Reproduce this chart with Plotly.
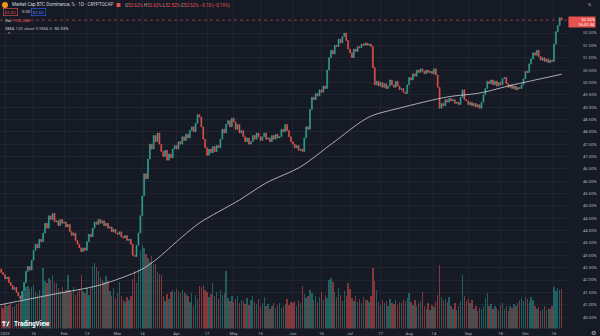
import pandas as pd
import plotly.graph_objects as go

# ---- Daily BTC dominance (%), 30 Dec 2022 .. 20 Oct 2023 -------------------
first_open = 42.45
closes = [
    42.30, 42.22, 42.05, 42.12, 41.90, 41.78, 41.62, 41.70, 41.50, 41.35,
    41.25, 41.55, 41.90, 42.35, 42.55, 42.40, 42.80, 43.20, 43.45, 43.30,
    43.65, 43.55, 43.90, 44.30, 44.10, 44.60, 44.45, 44.70, 44.35, 44.40,
    44.20, 44.45, 44.30, 44.35, 44.15, 44.25, 43.95, 43.80, 43.90, 43.60,
    43.45, 43.30, 43.15, 43.30, 43.20, 43.55, 43.85, 43.75, 44.10, 44.35,
    44.25, 44.45, 44.30, 44.40, 44.20, 44.30, 44.10, 44.15, 43.95, 44.05,
    43.90, 43.85, 43.95, 43.75, 43.70, 43.80, 43.60, 43.65, 43.45, 43.00,
    42.95, 43.40, 43.90, 44.60, 45.40, 46.30, 46.10, 46.90, 47.50, 47.30,
    47.85, 47.60, 47.95, 47.50, 47.20, 47.00, 47.25, 46.85, 47.10, 46.95,
    47.30, 47.45, 47.30, 47.60, 47.50, 47.80, 47.65, 47.90, 47.75, 48.05,
    48.20, 48.00, 48.35, 48.70, 48.60, 48.20, 47.70, 47.35, 47.05, 47.30,
    47.15, 47.40, 47.20, 47.45, 47.35, 47.70, 48.10, 47.95, 48.30, 48.45,
    48.20, 48.55, 48.40, 48.10, 48.30, 47.95, 48.05, 47.80, 47.60, 47.75,
    47.50, 47.60, 47.85, 47.70, 47.95, 47.80, 47.65, 47.80, 47.95, 47.70,
    47.75, 47.60, 47.85, 47.70, 47.90, 47.75, 47.80, 48.10, 48.00, 48.30,
    48.05, 47.80, 47.60, 47.50, 47.35, 47.45, 47.25, 47.30, 47.20, 47.75,
    48.20, 48.10, 48.90, 49.40, 49.30, 49.55, 49.45, 49.70, 49.60, 49.85,
    49.75, 50.50, 51.00, 51.30, 51.15, 51.50, 51.45, 51.75, 51.60, 51.85,
    52.00, 51.70, 51.35, 51.20, 51.00, 51.35, 51.25, 51.45, 51.40, 51.55,
    51.50, 51.60, 51.50, 51.55, 51.45, 50.60, 49.90, 50.05, 49.85, 50.00,
    49.80, 49.95, 49.75, 49.85, 50.10, 49.90, 49.80, 50.05, 49.85, 49.70,
    49.75, 49.60, 49.55, 49.90, 50.20, 50.10, 50.35, 50.25, 50.50, 50.40,
    50.55, 50.45, 50.35, 50.50, 50.40, 50.45, 50.35, 50.55, 50.30, 49.80,
    48.95, 49.15, 49.05, 49.30, 49.20, 49.35, 49.25, 49.30, 49.15, 49.20,
    49.10, 49.40, 49.70, 49.30, 49.25, 49.10, 49.20, 49.05, 49.15, 49.00,
    49.10, 48.95, 49.20, 49.50, 49.75, 50.05, 49.95, 50.10, 49.90, 50.05,
    49.85, 50.00, 49.90, 50.15, 50.20, 49.95, 49.80, 49.90, 49.75, 49.85,
    49.70, 49.80, 49.75, 49.90, 50.15, 50.45, 50.40, 50.75, 50.95, 51.20,
    51.10, 51.30, 51.05, 50.90, 51.00, 50.85, 50.95, 50.80, 50.90, 50.85,
    51.55, 52.05, 52.30, 52.62, 52.52,
]

# Daily volume, billions
volumes = [
    60, 55, 65, 58, 62, 66, 57, 60, 64, 68,
    82, 90, 95,
    108, 112, 104, 110, 114,
    95, 90, 100, 88,
    158,
    125, 120, 132, 128,
    140,
    122, 118,
    105, 98, 110, 96, 102,
    140,
    100, 92, 108, 88, 96, 104,
    140,
    98, 92, 105, 88, 110,
    165, 172, 160, 150,
    135, 128, 122, 138, 125,
    98, 85, 105, 80, 92,
    121,
    84, 76, 70, 82, 74, 86,
    130, 150, 118, 155,
    205, 219, 210, 195,
    185, 175, 190, 170, 168,
    148, 142, 140,
    85, 72, 90, 78, 95,
    100, 96, 104, 98, 92, 102, 96, 90,
    85, 70, 92, 60, 88, 78,
    112, 108, 115, 100,
    95, 82, 90,
    118,
    85, 95, 78, 100, 88, 92,
    150,
    80, 72, 86, 70, 78, 84, 68, 76,
    72, 65, 80, 62, 74, 86, 70, 64, 78, 60, 68, 82,
    58, 64, 52, 60, 66, 55, 62, 68, 54, 60, 65, 78, 62, 70,
    66, 72, 60, 74, 68,
    112, 90,
    80, 84, 100, 92, 75, 86, 70, 82, 95, 74, 88, 80,
    128, 132, 122,
    95, 82, 105, 88, 72, 98,
    85,
    118, 104,
    80, 72, 86, 70, 78, 68, 82, 74, 76, 70, 84,
    158,
    125, 100,
    70, 62, 75, 66, 72, 60, 78, 68, 64, 74, 62, 70, 66, 76, 72, 80,
    92,
    70, 62, 75, 58, 66, 72,
    95,
    60, 52, 68, 48, 62, 56, 70, 88,
    166,
    82, 74, 78, 70, 82,
    60, 52, 68, 48, 58, 72,
    140,
    86, 72, 78, 68, 74,
    52, 58, 46, 55, 50, 60, 80,
    92,
    58, 64, 50, 60, 55, 48, 62, 66, 52, 58, 46, 60, 54, 64, 58, 68,
    75, 80, 72, 82, 78, 70, 82, 76,
    58, 50, 56, 46, 52, 60, 48, 55, 50, 58,
    108,
    98, 106, 100, 103.24,
]

# 120-day simple moving average of the close
sma_dates = ["2022-12-29", "2023-01-25", "2023-02-20", "2023-03-13", "2023-03-21",
             "2023-04-04", "2023-04-13", "2023-05-04", "2023-05-18", "2023-06-05",
             "2023-06-22", "2023-07-11", "2023-07-27", "2023-08-21", "2023-09-07",
             "2023-09-24", "2023-10-20"]
sma_values = [40.99, 41.40, 41.80, 42.40, 42.81,
              43.75, 44.31, 45.24, 45.93, 46.58,
              47.55, 48.60, 48.96, 49.41, 49.57,
              49.89, 50.33]

# Axis ticks (52.50% sits under the last-price tag)
x_tick_dates = ["2023-01-01", "2023-01-16", "2023-02-01", "2023-02-13", "2023-03-01",
                "2023-03-14", "2023-04-01", "2023-04-17", "2023-05-01", "2023-05-15",
                "2023-06-01", "2023-06-16", "2023-07-01", "2023-07-17", "2023-08-01",
                "2023-08-14", "2023-09-01", "2023-09-18", "2023-10-01", "2023-10-16"]
x_tick_text = ["2023", "16", "Feb", "13", "Mar", "14", "Apr", "17", "May", "15",
               "Jun", "16", "Jul", "17", "Aug", "14", "Sep", "18", "Oct", "16"]
y_ticks = [40.5, 41.0, 41.5, 42.0, 42.5, 43.0, 43.5, 44.0, 44.5, 45.0, 45.5, 46.0,
           46.5, 47.0, 47.5, 48.0, 48.5, 49.0, 49.5, 50.0, 50.5, 51.0, 51.5, 52.0]

assert len(closes) == len(volumes)

# ---- derived candle fields --------------------------------------------------
dates = pd.date_range("2022-12-30", periods=len(closes), freq="D")
opens = [first_open] + closes[:-1]
highs = [max(o, c) for o, c in zip(opens, closes)]
lows = [min(o, c) for o, c in zip(opens, closes)]

BG = "#161a25"
GRID = "#20242f"
TXT = "#b2b5be"
UP = "#2fa597"
DOWN = "#e9534f"
FONT = "Roboto, Liberation Sans, sans-serif"

W, H = 600, 336
PLOT_R = 567
PLOT_B = 328.5


def px(x):
    return x / W


def py(y):
    return 1 - y / H


vol_colors = ["rgba(38,166,154,0.5)" if c >= o else "rgba(239,83,80,0.5)"
              for o, c in zip(opens, closes)]

fig = go.Figure()
fig.add_trace(go.Bar(
    x=dates, y=volumes, marker_color=vol_colors, marker_line_width=0,
    width=86400000 * 0.72, yaxis="y", hoverinfo="skip", showlegend=False))
fig.add_trace(go.Scatter(
    x=sma_dates, y=sma_values, mode="lines", yaxis="y2",
    line=dict(color="rgba(215,218,226,0.85)", width=0.9, shape="spline", smoothing=0.8),
    hoverinfo="skip", showlegend=False))
fig.add_trace(go.Candlestick(
    x=dates, open=opens, high=highs, low=lows, close=closes, yaxis="y2",
    increasing=dict(line=dict(color=UP, width=0.6), fillcolor=UP),
    decreasing=dict(line=dict(color=DOWN, width=0.6), fillcolor=DOWN),
    whiskerwidth=0, hoverinfo="skip", showlegend=False))

price_top = 53.336
px_per_pct = 24.7
price_bottom = price_top - PLOT_B / px_per_pct
vol_top = volumes[-1] * PLOT_B / 39.4

fig.update_layout(
    width=W, height=H, margin=dict(l=0, r=0, t=0, b=0),
    paper_bgcolor=BG, plot_bgcolor=BG,
    font=dict(family=FONT, color=TXT, size=4),
    xaxis=dict(
        domain=[0, px(PLOT_R)], type="date",
        range=["2022-12-29 09:00", "2023-10-22 20:00"],
        tickvals=x_tick_dates, ticktext=x_tick_text,
        tickfont=dict(size=4.2, color=TXT), ticks="", showline=False,
        gridcolor=GRID, gridwidth=1, zeroline=False,
        rangeslider=dict(visible=False), fixedrange=True,
        ticklabelstandoff=1,
    ),
    yaxis=dict(
        domain=[1 - PLOT_B / H, 1], range=[0, vol_top], visible=False,
        showgrid=False, fixedrange=True,
    ),
    yaxis2=dict(
        overlaying="y", side="right", anchor="x",
        range=[price_bottom, price_top],
        tickvals=y_ticks, ticktext=[f"{v:.2f}%" for v in y_ticks],
        tickfont=dict(size=4.2, color=TXT), ticks="", showline=False,
        gridcolor=GRID, gridwidth=1, zeroline=False, fixedrange=True,
        ticklabelstandoff=15,
    ),
    bargap=0,
)

last = closes[-1]
prev = closes[-2]
o_last, h_last, l_last = opens[-1], highs[-1], lows[-1]
chg = last - prev
chg_pct = chg / prev * 100

shapes = [
    # last-price line
    dict(type="line", xref="paper", yref="y2", x0=0, x1=px(PLOT_R), y0=last, y1=last,
         line=dict(color="rgba(239,83,80,0.55)", width=1, dash="dot")),
    # symbol icon
    dict(type="circle", xref="paper", yref="paper", x0=px(2), x1=px(8), y0=py(8), y1=py(2),
         fillcolor="#f7931a", line=dict(width=0)),
    dict(type="rect", xref="paper", yref="paper", x0=px(116.5), x1=px(120.5), y0=py(7), y1=py(3),
         fillcolor="#e8504d", line=dict(width=0)),
    # TradingView mark
    dict(type="rect", xref="paper", yref="paper", x0=px(2), x1=px(5.2), y0=py(322.7), y1=py(321.4),
         fillcolor="#ffffff", line=dict(width=0)),
    dict(type="rect", xref="paper", yref="paper", x0=px(3.4), x1=px(4.6), y0=py(326.2), y1=py(321.4),
         fillcolor="#ffffff", line=dict(width=0)),
    dict(type="circle", xref="paper", yref="paper", x0=px(5.5), x1=px(6.7), y0=py(322.8), y1=py(321.6),
         fillcolor="#ffffff", line=dict(width=0)),
    dict(type="path", xref="paper", yref="paper",
         path=f"M {px(6.2)},{py(326.2)} L {px(8.3)},{py(321.4)} L {px(9.6)},{py(321.4)} L {px(7.5)},{py(326.2)} Z",
         fillcolor="#ffffff", line=dict(width=0)),
]

ann = []


def label(x, y, text, color=TXT, size=4.5, **kw):
    ann.append(dict(xref="paper", yref="paper", x=px(x), y=py(y), text=text,
                    showarrow=False, xanchor=kw.pop("xanchor", "left"),
                    yanchor=kw.pop("yanchor", "middle"),
                    font=dict(family=FONT, size=size, color=color), **kw))


def g(s):
    return f'<span style="color:{TXT}">{s}</span>'


label(10, 5, "Market Cap BTC Dominance, % · 1D · CRYPTOCAP", color="#d1d4dc", size=4.6)
label(123, 5.2,
      f"{g('O')}{o_last:.2f}% {g('H')}{h_last:.2f}% {g('L')}{l_last:.2f}% "
      f"{g('C')}{last:.2f}% {chg:+.2f} ({chg_pct:+.2f}%)".replace("-", "−"),
      color=DOWN, size=4.5)
label(3, 12, f"{last:.2f}", color=DOWN, size=4.3, bordercolor=DOWN, borderwidth=0.6, borderpad=1)
label(20, 12, "0.00", color="#d1d4dc", size=4.3)
label(31, 12, f"{last:.2f}", color="#5b8cff", size=4.3, bordercolor="#2962ff", borderwidth=0.6, borderpad=1)
label(3, 20, f"Vol  <span style='color:{DOWN}'>{volumes[-1]:.2f}B</span>", color="#d1d4dc", size=4.4)
label(3, 28, f"SMA {g('120 close 0 SMA 5')}  {sma_values[-1]:.2f}%", color="#d1d4dc", size=4.4)
label(5, 34, "⌃", color="#d1d4dc", size=5)
label(12, 323.8, "<b>TradingView</b>", color="#ffffff", size=6.3)
label(586, 5, "%", color=TXT, size=4.3)
label(593, 332, "⚙", color=TXT, size=6, xanchor="center")

# last-price tag on the price scale
ann.append(dict(xref="paper", yref="y2", x=px(568), y=last, yshift=1, text=f"{last:.2f}%",
                showarrow=False, xanchor="left", yanchor="middle", align="right",
                width=26, height=4.6, bgcolor=DOWN, borderpad=0,
                font=dict(family=FONT, size=4.2, color="#ffffff")))
ann.append(dict(xref="paper", yref="y2", x=px(568), y=last, yshift=-4.2, text="16:51:34",
                showarrow=False, xanchor="left", yanchor="middle", align="right",
                width=26, height=4.6, bgcolor=DOWN, borderpad=0,
                font=dict(family=FONT, size=4.2, color="#ffffff")))

fig.update_layout(shapes=shapes, annotations=ann)
fig.write_html("out.html")
